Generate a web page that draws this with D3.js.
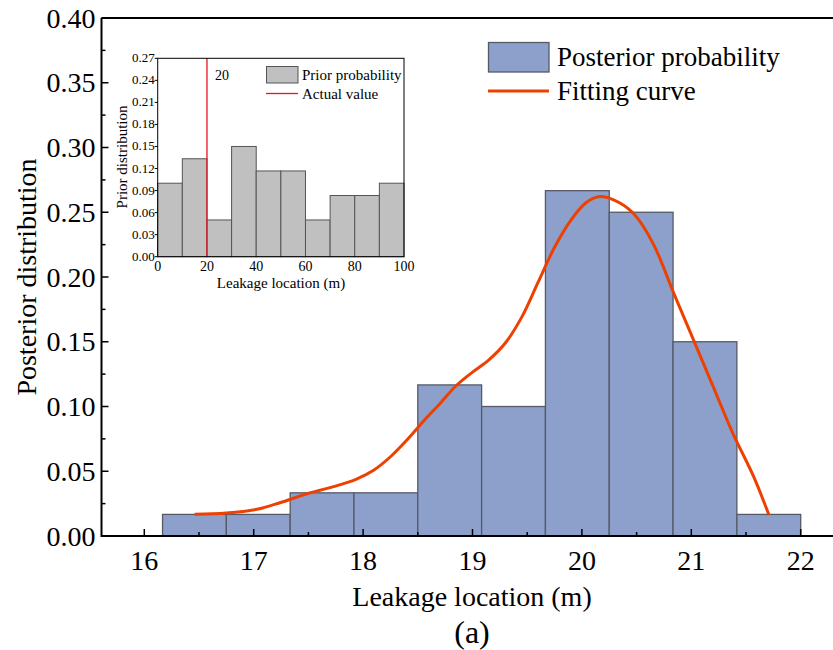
<!DOCTYPE html>
<html><head><meta charset="utf-8">
<script src="https://cdn.jsdelivr.net/npm/d3@7"></script>
<style>body{margin:0;background:#fff}svg{display:block}</style>
</head><body><svg id="c" width="833" height="650" font-family="'Liberation Serif', 'DejaVu Serif', 'Times New Roman', serif"></svg>
<script>
// ---- data ----
const postBinStart = 16.1667, postBinWidth = 0.58333;
const postValues = [0.01667,0.01667,0.03333,0.03333,0.11667,0.1,0.26667,0.25,0.15,0.01667];
const curveX = [16.46,16.75,17.03,17.24,17.48,17.73,17.94,18.10,18.25,18.40,18.55,18.70,18.85,19.00,19.15,19.30,19.45,19.60,19.75,19.90,20.04,20.15,20.29,20.47,20.65,20.84,21.02,21.20,21.38,21.57,21.71];
const curveY = [0.0168,0.0177,0.0206,0.0257,0.0324,0.0381,0.0440,0.0510,0.0612,0.0741,0.0885,0.1020,0.1160,0.1265,0.1360,0.1490,0.1690,0.1960,0.2230,0.2440,0.2575,0.2620,0.2595,0.2492,0.2260,0.1874,0.1514,0.1153,0.0793,0.0458,0.0162];
const xTicks = [16,17,18,19,20,21,22];
const yTicks = [0,0.05,0.10,0.15,0.20,0.25,0.30,0.35,0.40];
const priorBinWidth = 10;
const priorValues = [0.1,0.1333,0.05,0.15,0.1167,0.1167,0.05,0.0833,0.0833,0.1];
const priorXTicks = [0,20,40,60,80,100];
const priorYTicks = [0,0.03,0.06,0.09,0.12,0.15,0.18,0.21,0.24,0.27];
const actualValue = 20;

const svg = d3.select("#c");
// ---- main scales ----
const x = d3.scaleLinear().domain([16,22]).range([144.3,800.7]);
const y = d3.scaleLinear().domain([0,0.4]).range([536,18]);
const L = 101.5, R = 840, T = 18, B = 536;

// bars
svg.append("g").selectAll("rect").data(postValues).join("rect")
  .attr("x",(d,i)=>x(postBinStart+i*postBinWidth))
  .attr("width",(d,i)=>x(postBinStart+(i+1)*postBinWidth)-x(postBinStart+i*postBinWidth))
  .attr("y",d=>y(d)).attr("height",d=>y(0)-y(d))
  .attr("fill","#8da0cb").attr("stroke","#555a66").attr("stroke-width",1.3);

// curve
const pts = curveX.map((v,i)=>[v,curveY[i]]);
svg.append("path").datum(pts)
  .attr("d",d3.line().x(d=>x(d[0])).y(d=>y(d[1])).curve(d3.curveCatmullRom.alpha(0.5)))
  .attr("fill","none").attr("stroke","#ee4000").attr("stroke-width",3);

// frame
svg.append("path").attr("d",`M${L},${T}H${R}M${L},${T}V${B}H${R}`).attr("fill","none").attr("stroke","#000").attr("stroke-width",2);

// x ticks (inward)
const gx = svg.append("g");
d3.range(16,22.01,0.5).forEach(v=>{
  const major = Math.abs(v-Math.round(v))<1e-6;
  gx.append("line").attr("x1",x(v)).attr("x2",x(v)).attr("y1",B).attr("y2",B-(major?7:4)).attr("stroke","#000").attr("stroke-width",1.5);
});
gx.selectAll("text").data(xTicks).join("text").attr("x",d=>x(d)).attr("y",B+34)
  .attr("text-anchor","middle").attr("font-size",28).text(d=>d);
// y ticks
const gy = svg.append("g");
d3.range(0,0.4001,0.025).forEach(v=>{
  const major = Math.abs(v/0.05-Math.round(v/0.05))<1e-6;
  gy.append("line").attr("x1",L).attr("x2",L+(major?7:4)).attr("y1",y(v)).attr("y2",y(v)).attr("stroke","#000").attr("stroke-width",1.5);
});
gy.selectAll("text").data(yTicks).join("text").attr("x",L-6).attr("y",d=>y(d)+9.5)
  .attr("text-anchor","end").attr("font-size",28).text(d=>d3.format(".2f")(d));

svg.append("text").attr("x",472).attr("y",606).attr("text-anchor","middle").attr("font-size",28).text("Leakage location (m)");
svg.append("text").attr("x",472).attr("y",643).attr("text-anchor","middle").attr("font-size",32).text("(a)");
svg.append("text").attr("transform","translate(36,277) rotate(-90)").attr("text-anchor","middle").attr("font-size",28).text("Posterior distribution");

// legend
svg.append("rect").attr("x",488.5).attr("y",42.5).attr("width",60.5).attr("height",29.5).attr("fill","#8da0cb").attr("stroke","#555a66").attr("stroke-width",1.3);
svg.append("text").attr("x",557).attr("y",66).attr("font-size",27).text("Posterior probability");
svg.append("line").attr("x1",488).attr("x2",549).attr("y1",91).attr("y2",91).attr("stroke","#ee4000").attr("stroke-width",3);
svg.append("text").attr("x",557).attr("y",100).attr("font-size",27).text("Fitting curve");

// ---- inset ----
const ix = d3.scaleLinear().domain([0,100]).range([157.7,404]);
const iy = d3.scaleLinear().domain([0,0.27]).range([256.7,58.3]);
const ig = svg.append("g");
ig.append("rect").attr("x",ix(0)).attr("y",iy(0.27)).attr("width",ix(100)-ix(0)).attr("height",iy(0)-iy(0.27)).attr("fill","#fff");
ig.selectAll("rect.b").data(priorValues).join("rect").attr("class","b")
  .attr("x",(d,i)=>ix(i*priorBinWidth)).attr("width",(d,i)=>ix((i+1)*priorBinWidth)-ix(i*priorBinWidth))
  .attr("y",d=>iy(d)).attr("height",d=>iy(0)-iy(d))
  .attr("fill","#c0c0c0").attr("stroke","#555").attr("stroke-width",1);
ig.append("line").attr("x1",ix(actualValue)).attr("x2",ix(actualValue)).attr("y1",iy(0)).attr("y2",iy(0.27)).attr("stroke","#e8141c").attr("stroke-width",1.3);
ig.append("text").attr("x",ix(actualValue)+8).attr("y",80).attr("font-size",14).text(String(actualValue));
ig.append("rect").attr("x",ix(0)).attr("y",iy(0.27)).attr("width",ix(100)-ix(0)).attr("height",iy(0)-iy(0.27)).attr("fill","none").attr("stroke","#000").attr("stroke-width",1);
priorYTicks.forEach(v=>{
  ig.append("line").attr("x1",ix(0)-3).attr("x2",ix(0)).attr("y1",iy(v)).attr("y2",iy(v)).attr("stroke","#000");
});
ig.selectAll("text.yt").data(priorYTicks).join("text").attr("class","yt").attr("x",ix(0)-3).attr("y",d=>iy(d)+4)
  .attr("text-anchor","end").attr("font-size",13).text(d=>d3.format(".2f")(d));
ig.selectAll("text.xt").data(priorXTicks).join("text").attr("class","xt").attr("x",d=>ix(d)).attr("y",iy(0)+14)
  .attr("text-anchor","middle").attr("font-size",14).text(d=>d);
ig.append("text").attr("x",281).attr("y",288).attr("text-anchor","middle").attr("font-size",15).text("Leakage location (m)");
ig.append("text").attr("transform","translate(127,157) rotate(-90)").attr("text-anchor","middle").attr("font-size",15).text("Prior distribution");
ig.append("rect").attr("x",266.5).attr("y",66.5).attr("width",31.5).attr("height",16.5).attr("fill","#c0c0c0").attr("stroke","#555");
ig.append("text").attr("x",302).attr("y",80).attr("font-size",15).text("Prior probability");
ig.append("line").attr("x1",266).attr("x2",298).attr("y1",93.5).attr("y2",93.5).attr("stroke","#e8141c").attr("stroke-width",1.3);
ig.append("text").attr("x",302).attr("y",99).attr("font-size",15).text("Actual value");
</script></body></html>
